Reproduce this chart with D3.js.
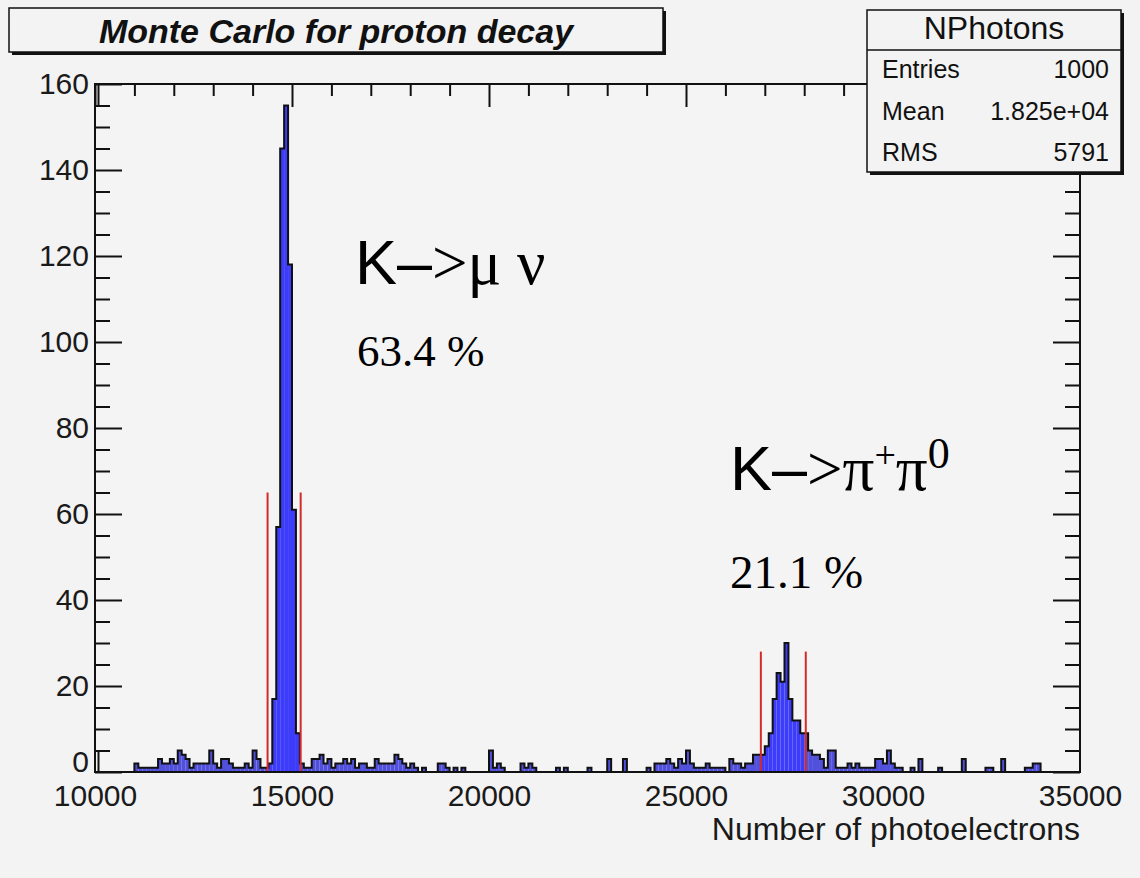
<!DOCTYPE html>
<html>
<head>
<meta charset="utf-8">
<script src="https://cdn.jsdelivr.net/npm/d3@7"></script>
<style>
  html, body { margin: 0; padding: 0; background: #f3f3f3; }
  svg { display: block; }
</style>
</head>
<body>
<svg id="chart" width="1140" height="878"></svg>
<script>
// ---------------- data ----------------
const histTitle = "Monte Carlo for proton decay";
const xAxisTitle = "Number of photoelectrons";
const xRange = [10000, 35000];
const yRange = [0, 160];
const binWidth = 100;
// counts per bin, 250 bins of 100 photoelectrons starting at 10000
const counts = [
  0,0,0,0,0,0,0,0,0,0,     2,1,1,1,1,1,3,2,2,3,
  2,5,4,3,1,2,2,2,2,5,     2,1,3,3,2,1,1,1,2,1,
  5,3,1,1,2,17,57,145,155,118, 61,9,2,1,1,3,3,4,2,3,
  1,2,2,3,2,3,1,2,2,1,     1,3,2,2,2,2,4,3,2,1,
  2,1,0,1,0,0,0,2,2,1,     0,1,0,1,0,0,0,0,0,0,
  5,1,2,1,0,0,0,0,2,1,     2,1,0,0,0,0,0,1,0,1,
  0,0,0,0,0,1,0,0,0,0,     3,0,0,0,3,0,0,0,0,0,
  1,0,2,2,2,3,2,1,3,2,     5,2,1,1,1,2,1,1,1,1,
  0,3,2,2,1,2,2,4,4,4,     6,9,17,23,21,30,17,12,12,9,
  9,5,4,4,3,1,5,5,1,1,     1,2,1,2,1,1,1,1,3,3,
  2,5,2,1,1,0,0,1,0,3,     0,0,0,0,1,0,0,0,0,0,
  3,0,0,0,0,0,1,1,0,0,     3,0,0,0,0,0,1,1,2,2,
  0,0,0,0,0,0,0,0,0,0
];
// selection windows (red lines)
const windowLow  = [14380, 26900];
const windowHigh = [15220, 28040];
const windowLineHeight = [65, 28];
// statistics box
const statsName = "NPhotons";
const statsLabels = ["Entries", "Mean", "RMS"];
const statsValues = ["1000", "1.825e+04", "5791"];
// annotations
const channelFractions = ["63.4 %", "21.1 %"];
const xTickValues = [10000, 15000, 20000, 25000, 30000, 35000];
const yTickValues = [0, 20, 40, 60, 80, 100, 120, 140, 160];

// ---------------- layout ----------------
const svg = d3.select("#chart");
const L = 95, R = 1080, T = 84, B = 772;
const x = d3.scaleLinear().domain(xRange).range([L, R]);
const y = d3.scaleLinear().domain(yRange).range([B, T]);
const SANS = "'Liberation Sans', Arial, Helvetica, sans-serif";
const SERIF = "'Liberation Serif', 'Times New Roman', serif";

svg.append("rect").attr("width", 1140).attr("height", 878).attr("fill", "#f3f3f3");
svg.append("rect").attr("x", L).attr("y", T).attr("width", R - L).attr("height", B - T).attr("fill", "#f4f4f5");

// ---------------- histogram ----------------
const bins = counts.map((c, i) => ({ lo: xRange[0] + i * binWidth, c }));
function inWindow(v) {
  return windowLow.some((lo, k) => v >= lo && v <= windowHigh[k]);
}
svg.append("g").selectAll("rect").data(bins.filter(d => d.c > 0)).join("rect")
  .attr("x", d => x(d.lo))
  .attr("width", d => x(d.lo + binWidth) - x(d.lo))
  .attr("y", d => y(d.c))
  .attr("height", d => y(0) - y(d.c))
  .attr("fill", d => inWindow(d.lo + binWidth / 2) ? "#3c3cfa" : "#5050dc");

const pts = [[xRange[0], 0]].concat(bins.map(d => [d.lo, d.c]), [[xRange[1], counts[counts.length - 1]], [xRange[1], 0]]);
const stepLine = d3.line().x(d => x(d[0])).y(d => y(d[1])).curve(d3.curveStepAfter);
svg.append("path").attr("d", stepLine(pts)).attr("fill", "none")
  .attr("stroke", "#111").attr("stroke-width", 2).attr("stroke-linejoin", "miter");

// red selection lines
const redLines = [];
windowLow.forEach((lo, k) => {
  redLines.push({ v: lo, h: windowLineHeight[k] });
  redLines.push({ v: windowHigh[k], h: windowLineHeight[k] });
});
svg.append("g").selectAll("line").data(redLines).join("line")
  .attr("x1", d => x(d.v)).attr("x2", d => x(d.v))
  .attr("y1", y(0)).attr("y2", d => y(d.h))
  .attr("stroke", "#d42a2a").attr("stroke-width", 2);

// ---------------- axes ----------------
const minorX = d3.range(xRange[0], xRange[1] + 1, 1000).filter(v => v % 5000 !== 0);
const minorY = d3.range(yRange[0], yRange[1] + 1, 5).filter(v => v % 20 !== 0);

function styleAxis(g) {
  g.select(".domain").remove();
  g.selectAll("line").attr("stroke", "#111").attr("stroke-width", 2);
  g.selectAll("text").attr("font-family", SANS).attr("font-size", 30).attr("fill", "#1a1a1a");
}
// left
const leftAxis = svg.append("g").attr("transform", `translate(${L},0)`)
  .call(d3.axisLeft(y).tickValues(yTickValues).tickSizeInner(-27).tickSizeOuter(0).tickPadding(6).tickFormat(d3.format("d")))
  .call(styleAxis);
leftAxis.selectAll(".tick").filter(d => d === 0).select("text").attr("dy", "-0.02em");
svg.append("g").attr("transform", `translate(${L},0)`)
  .call(d3.axisLeft(y).tickValues(minorY).tickSizeInner(-15).tickSizeOuter(0).tickFormat(""))
  .call(styleAxis);
// right
svg.append("g").attr("transform", `translate(${R},0)`)
  .call(d3.axisRight(y).tickValues(yTickValues).tickSizeInner(-27).tickSizeOuter(0).tickFormat(""))
  .call(styleAxis);
svg.append("g").attr("transform", `translate(${R},0)`)
  .call(d3.axisRight(y).tickValues(minorY).tickSizeInner(-15).tickSizeOuter(0).tickFormat(""))
  .call(styleAxis);
// top ticks
svg.append("g").attr("transform", `translate(0,${T})`)
  .call(d3.axisTop(x).tickValues(xTickValues).tickSizeInner(-23).tickSizeOuter(0).tickFormat(""))
  .call(styleAxis);
svg.append("g").attr("transform", `translate(0,${T})`)
  .call(d3.axisTop(x).tickValues(minorX).tickSizeInner(-12).tickSizeOuter(0).tickFormat(""))
  .call(styleAxis);
// bottom labels
svg.append("g").attr("transform", `translate(0,${B})`)
  .call(d3.axisBottom(x).tickValues(xTickValues).tickSizeInner(0).tickSizeOuter(0).tickPadding(13).tickFormat(d3.format("d")))
  .call(styleAxis);

// frame
svg.append("rect").attr("x", L).attr("y", T).attr("width", R - L).attr("height", B - T)
  .attr("fill", "none").attr("stroke", "#111").attr("stroke-width", 2);
svg.append("line").attr("x1", L + 3.5).attr("x2", L + 3.5).attr("y1", T).attr("y2", y(155)).attr("stroke", "#111").attr("stroke-width", 2);
svg.append("line").attr("x1", L + 3.5).attr("x2", L + 3.5).attr("y1", y(5)).attr("y2", B).attr("stroke", "#111").attr("stroke-width", 2);

// axis title
svg.append("text").attr("x", R).attr("y", 840).attr("text-anchor", "end")
  .attr("font-family", SANS).attr("font-size", 32).attr("fill", "#1a1a1a").text(xAxisTitle);

// ---------------- title box ----------------
const tb = { x: 9, y: 8, w: 654, h: 44 };
svg.append("rect").attr("x", tb.x + 3).attr("y", tb.y + 3).attr("width", tb.w).attr("height", tb.h).attr("fill", "#111");
svg.append("rect").attr("x", tb.x).attr("y", tb.y).attr("width", tb.w).attr("height", tb.h)
  .attr("fill", "#f3f3f3").attr("stroke", "#111").attr("stroke-width", 1.5);
svg.append("text").attr("x", tb.x + tb.w / 2).attr("y", 43).attr("text-anchor", "middle")
  .attr("font-family", SANS).attr("font-weight", "bold").attr("font-style", "italic")
  .attr("font-size", 34).attr("fill", "#111").text(histTitle);

// ---------------- stats box ----------------
const sb = { x: 867, y: 10, w: 254, h: 162 };
svg.append("rect").attr("x", sb.x + 3).attr("y", sb.y + 3).attr("width", sb.w).attr("height", sb.h).attr("fill", "#111");
svg.append("rect").attr("x", sb.x).attr("y", sb.y).attr("width", sb.w).attr("height", sb.h)
  .attr("fill", "#f3f3f3").attr("stroke", "#111").attr("stroke-width", 1.5);
svg.append("line").attr("x1", sb.x).attr("x2", sb.x + sb.w).attr("y1", 50).attr("y2", 50)
  .attr("stroke", "#111").attr("stroke-width", 1.5);
svg.append("text").attr("x", sb.x + sb.w / 2).attr("y", 39).attr("text-anchor", "middle")
  .attr("font-family", SANS).attr("font-size", 32).attr("fill", "#111").text(statsName);
const rowY = [78, 120, 161];
statsLabels.forEach((lab, i) => {
  svg.append("text").attr("x", 882).attr("y", rowY[i]).attr("font-family", SANS)
    .attr("font-size", 25).attr("fill", "#111").text(lab);
  svg.append("text").attr("x", 1109).attr("y", rowY[i]).attr("text-anchor", "end").attr("font-family", SANS)
    .attr("font-size", 25).attr("fill", "#111").text(statsValues[i]);
});

// ---------------- annotations ----------------
const a1 = svg.append("text").attr("x", 355).attr("y", 284).attr("font-size", 63).attr("fill", "#000");
a1.append("tspan").attr("font-family", SANS).text("K–");
a1.append("tspan").attr("font-family", SERIF).text(">μ ν");
svg.append("text").attr("x", 357).attr("y", 366).attr("font-family", SERIF).attr("font-size", 45)
  .attr("fill", "#000").text(channelFractions[0]);

const a2 = svg.append("text").attr("x", 730).attr("y", 490).attr("font-size", 63).attr("fill", "#000");
a2.append("tspan").attr("font-family", SANS).text("K–");
a2.append("tspan").attr("font-family", SERIF).text(">π");
a2.append("tspan").attr("font-family", SERIF).attr("font-size", 38).attr("dy", -22).text("+");
a2.append("tspan").attr("font-family", SERIF).attr("dy", 22).text("π");
a2.append("tspan").attr("font-family", SERIF).attr("font-size", 44).attr("dy", -22).text("0");
svg.append("text").attr("x", 730).attr("y", 588).attr("font-family", SERIF).attr("font-size", 47)
  .attr("fill", "#000").text(channelFractions[1]);
</script>
</body>
</html>
